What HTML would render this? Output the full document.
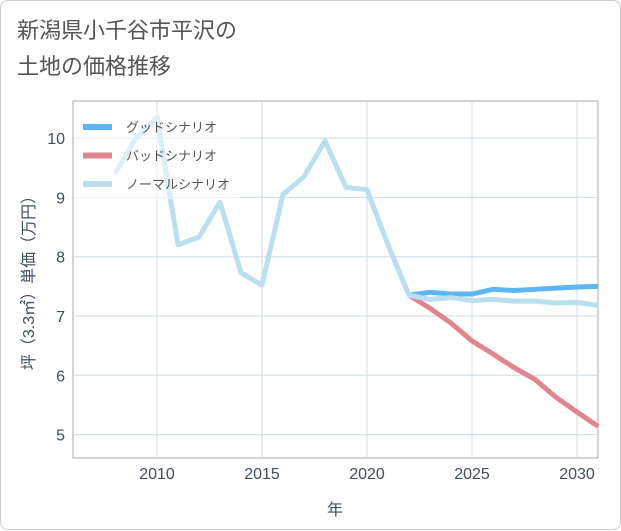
<!DOCTYPE html>
<html><head><meta charset="utf-8"><style>
body{margin:0;background:#fff;font-family:"Liberation Sans","Noto Sans CJK JP",sans-serif;}
#card{position:absolute;left:0;top:0;width:619px;height:528px;border:1px solid #ccc;border-radius:8px;background:#fff;}
#title{position:absolute;left:16px;top:12px;font-size:22px;line-height:36px;color:#555;}
</style></head><body>
<div id="card">
<div id="title">新潟県小千谷市平沢の<br>土地の価格推移</div>
<svg id="svg" width="621" height="530" style="position:absolute;left:0;top:0"></svg>
</div>
<script>
const years=[2008,2009,2010,2011,2012,2013,2014,2015,2016,2017,2018,2019,2020,2021,2022,2023,2024,2025,2026,2027,2028,2029,2030,2031];
const normal=[9.4,10.0,10.35,8.2,8.33,8.92,7.73,7.52,9.05,9.35,9.95,9.17,9.13,8.2,7.35,7.28,7.31,7.26,7.28,7.25,7.25,7.22,7.23,7.18];
const futureYears=[2022,2023,2024,2025,2026,2027,2028,2029,2030,2031];
const good=[7.35,7.4,7.37,7.37,7.45,7.43,7.45,7.47,7.49,7.5];
const bad=[7.35,7.13,6.88,6.58,6.36,6.13,5.93,5.63,5.38,5.14];
const xTicks=[2010,2015,2020,2025,2030];
const yTicks=[5,6,7,8,9,10];
const X=y=>72+(y-2006)*21;
const Y=v=>315-(v-7)*59.3;
const s=document.getElementById('svg');const NS='http://www.w3.org/2000/svg';
function el(t,a,p){const e=document.createElementNS(NS,t);for(const k in a)e.setAttribute(k,a[k]);(p||s).appendChild(e);return e;}
const plot=el('rect',{x:72,y:100,width:525,height:357,fill:'#fff',stroke:'#aaa'});


xTicks.forEach(t=>{const l=el('line',{x1:X(t),x2:X(t),y1:100,y2:457,stroke:'#cfdbe5'});


const tx=el('text',{x:X(t),y:478,'text-anchor':'middle','font-size':16,fill:'#3f4f60'});tx.textContent=t;

});
yTicks.forEach(t=>{const l=el('line',{x1:72,x2:597,y1:Y(t),y2:Y(t),stroke:'#cfdbe5'});


const tx=el('text',{x:64,y:Y(t)+6,'text-anchor':'end','font-size':16,fill:'#3f4f60'});tx.textContent=t;

});
function line(xs,vs,c,name){const p=el('polyline',{points:xs.map((x,i)=>X(x)+','+Y(vs[i])).join(' '),fill:'none',stroke:c,'stroke-width':5,'stroke-linejoin':'round'});

}
line(futureYears,bad,'#e0868f','line-bad');
line(futureYears,good,'#5bb6f2','line-good');
line(years,normal,'#b9dff0','line-normal');
const lb=el('rect',{x:73,y:110,width:165,height:88,fill:'rgba(255,255,255,0.5)'});


[['グッドシナリオ','#5bb6f2'],['バッドシナリオ','#e0868f'],['ノーマルシナリオ','#b9dff0']].forEach((d,i)=>{
const y=126+i*28.5;
const l=el('line',{x1:82,x2:111,y1:y,y2:y,stroke:d[1],'stroke-width':6});


const t=el('text',{x:125,y:y+5,'font-size':13,fill:'#555'});t.textContent=d[0];

});
const xt=el('text',{x:334,y:514,'text-anchor':'middle','font-size':16,fill:'#3f4f60'});xt.textContent='年';


const yt=el('text',{x:0,y:0,'text-anchor':'middle','font-size':16,fill:'#3f4f60',transform:'translate(33,278) rotate(-90)'});yt.textContent='坪（3.3㎡）単価（万円）';


</script>
</body></html>
